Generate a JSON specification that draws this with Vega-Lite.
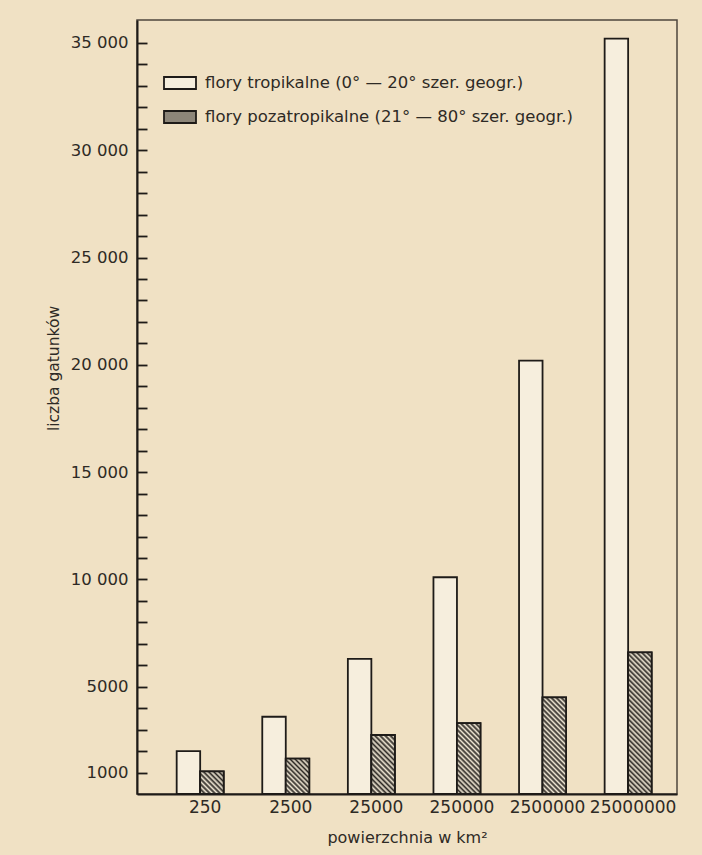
{
"$schema":"https://vega.github.io/schema/vega-lite/v6.json",
"width":540,"height":774,
"autosize":{"type":"none"},
"padding":{"left":137,"top":20,"right":25,"bottom":61},
"background":"#f0e1c4",
"config":{"view":{"stroke":"#4d463d","strokeWidth":1.5},"font":"DejaVu Sans"},
"data":{"values":[
{"area":"250","type":"flory tropikalne (0° — 20° szer. geogr.)","value":2000},
{"area":"250","type":"flory pozatropikalne (21° — 80° szer. geogr.)","value":1050},
{"area":"2500","type":"flory tropikalne (0° — 20° szer. geogr.)","value":3600},
{"area":"2500","type":"flory pozatropikalne (21° — 80° szer. geogr.)","value":1650},
{"area":"25000","type":"flory tropikalne (0° — 20° szer. geogr.)","value":6300},
{"area":"25000","type":"flory pozatropikalne (21° — 80° szer. geogr.)","value":2750},
{"area":"250000","type":"flory tropikalne (0° — 20° szer. geogr.)","value":10100},
{"area":"250000","type":"flory pozatropikalne (21° — 80° szer. geogr.)","value":3300},
{"area":"2500000","type":"flory tropikalne (0° — 20° szer. geogr.)","value":20200},
{"area":"2500000","type":"flory pozatropikalne (21° — 80° szer. geogr.)","value":4500},
{"area":"25000000","type":"flory tropikalne (0° — 20° szer. geogr.)","value":35200},
{"area":"25000000","type":"flory pozatropikalne (21° — 80° szer. geogr.)","value":6600}
]},
"encoding":{
"x":{"field":"area","type":"nominal","sort":null,"title":"powierzchnia w km²",
"scale":{"domain":["250","2500","25000","250000","2500000","25000000"],"paddingInner":0.451,"paddingOuter":0.38,"align":0.61},
"axis":{"labelAngle":0,"ticks":false,"domainColor":"#1e1b18","domainWidth":2,"labelFont":"DejaVu Sans","labelFontSize":17,"labelColor":"#2e2a25","labelPadding":5,"labelOffset":5,"titleFont":"DejaVu Sans","titleFontSize":16,"titleFontWeight":"normal","titleColor":"#2e2a25","titlePadding":14}},
"xOffset":{"field":"type","type":"nominal","scale":{"domain":["flory tropikalne (0° — 20° szer. geogr.)","flory pozatropikalne (21° — 80° szer. geogr.)"],"paddingInner":0,"paddingOuter":0}},
"y":{"field":"value","type":"quantitative","title":"liczba gatunków","scale":{"domain":[0,36070],"nice":false,"zero":true},
"axis":{"values":[1000,2000,3000,4000,5000,6000,7000,8000,9000,10000,11000,12000,13000,14000,15000,16000,17000,18000,19000,20000,21000,22000,23000,24000,25000,26000,27000,28000,29000,30000,31000,32000,33000,34000,35000],
"grid":false,"tickSize":-10,"tickWidth":1.8,"tickColor":"#1e1b18","domainColor":"#1e1b18","domainWidth":2,
"labelExpr":"(datum.value % 5000 == 0 || datum.value == 1000) ? (datum.value >= 10000 ? replace(format(datum.value, ','), ',', ' ') : format(datum.value, 'd')) : ''",
"labelOverlap":false,"labelPadding":19,"labelFont":"DejaVu Sans","labelFontSize":16.5,"labelColor":"#2e2a25",
"titleFont":"DejaVu Sans","titleFontSize":15.5,"titleFontWeight":"normal","titleColor":"#2e2a25","titleX":-76,"titleY":348,
"encode":{"ticks":{"update":{"x2":{"signal":"(datum.value % 5000 == 0 || datum.value == 1000) ? 15 : 10"}}}}}}
},
"layer":[
{"mark":{"type":"bar","stroke":"#1e1b18","strokeWidth":1.8},
"encoding":{"fill":{"field":"type","type":"nominal",
"scale":{"domain":["flory tropikalne (0° — 20° szer. geogr.)","flory pozatropikalne (21° — 80° szer. geogr.)"],"range":["#f6eedd","#8d8679"]},
"legend":{"title":null,"orient":"none","legendX":26,"legendY":46,"padding":0,"symbolType":"M-1,-0.375H1V0.375H-1Z","symbolSize":1024,"symbolStrokeWidth":1.8,"symbolStrokeColor":"#1e1b18","labelFont":"DejaVu Sans","labelFontSize":16.5,"labelColor":"#2e2a25","labelOffset":8,"labelLimit":0,"rowPadding":7}}}},
{"transform":[{"filter":"datum.area=='250' && indexof(datum.type,'poza')>=0"}],
"mark":{"type":"bar","stroke":"#1e1b18","strokeWidth":1.8,"fill":{"gradient":"linear","x1":0,"y1":1,"x2":1.021,"y2":0.022,"stops":[
{"offset":0,"color":"#2b2723"},{"offset":0.0556,"color":"#efe6d3"},{"offset":0.1111,"color":"#2b2723"},{"offset":0.1667,"color":"#efe6d3"},{"offset":0.2222,"color":"#2b2723"},{"offset":0.2778,"color":"#efe6d3"},{"offset":0.3333,"color":"#2b2723"},{"offset":0.3889,"color":"#efe6d3"},{"offset":0.4444,"color":"#2b2723"},{"offset":0.5,"color":"#efe6d3"},{"offset":0.5556,"color":"#2b2723"},{"offset":0.6111,"color":"#efe6d3"},{"offset":0.6667,"color":"#2b2723"},{"offset":0.7222,"color":"#efe6d3"},{"offset":0.7778,"color":"#2b2723"},{"offset":0.8333,"color":"#efe6d3"},{"offset":0.8889,"color":"#2b2723"},{"offset":0.9444,"color":"#efe6d3"},{"offset":1,"color":"#2b2723"}]}}},
{"transform":[{"filter":"datum.area=='2500' && indexof(datum.type,'poza')>=0"}],
"mark":{"type":"bar","stroke":"#1e1b18","strokeWidth":1.8,"fill":{"gradient":"linear","x1":0,"y1":1,"x2":0.767,"y2":-0.155,"stops":[
{"offset":0,"color":"#2b2723"},{"offset":0.0417,"color":"#efe6d3"},{"offset":0.0833,"color":"#2b2723"},{"offset":0.125,"color":"#efe6d3"},{"offset":0.1667,"color":"#2b2723"},{"offset":0.2083,"color":"#efe6d3"},{"offset":0.25,"color":"#2b2723"},{"offset":0.2917,"color":"#efe6d3"},{"offset":0.3333,"color":"#2b2723"},{"offset":0.375,"color":"#efe6d3"},{"offset":0.4167,"color":"#2b2723"},{"offset":0.4583,"color":"#efe6d3"},{"offset":0.5,"color":"#2b2723"},{"offset":0.5417,"color":"#efe6d3"},{"offset":0.5833,"color":"#2b2723"},{"offset":0.625,"color":"#efe6d3"},{"offset":0.6667,"color":"#2b2723"},{"offset":0.7083,"color":"#efe6d3"},{"offset":0.75,"color":"#2b2723"},{"offset":0.7917,"color":"#efe6d3"},{"offset":0.8333,"color":"#2b2723"},{"offset":0.875,"color":"#efe6d3"},{"offset":0.9167,"color":"#2b2723"},{"offset":0.9583,"color":"#efe6d3"},{"offset":1,"color":"#2b2723"}]}}},
{"transform":[{"filter":"datum.area=='25000' && indexof(datum.type,'poza')>=0"}],
"mark":{"type":"bar","stroke":"#1e1b18","strokeWidth":1.8,"fill":{"gradient":"linear","x1":0,"y1":1,"x2":0.481,"y2":-0.207,"stops":[
{"offset":0,"color":"#2b2723"},{"offset":0.0313,"color":"#efe6d3"},{"offset":0.0625,"color":"#2b2723"},{"offset":0.0938,"color":"#efe6d3"},{"offset":0.125,"color":"#2b2723"},{"offset":0.1563,"color":"#efe6d3"},{"offset":0.1875,"color":"#2b2723"},{"offset":0.2188,"color":"#efe6d3"},{"offset":0.25,"color":"#2b2723"},{"offset":0.2813,"color":"#efe6d3"},{"offset":0.3125,"color":"#2b2723"},{"offset":0.3438,"color":"#efe6d3"},{"offset":0.375,"color":"#2b2723"},{"offset":0.4063,"color":"#efe6d3"},{"offset":0.4375,"color":"#2b2723"},{"offset":0.4688,"color":"#efe6d3"},{"offset":0.5,"color":"#2b2723"},{"offset":0.5313,"color":"#efe6d3"},{"offset":0.5625,"color":"#2b2723"},{"offset":0.5938,"color":"#efe6d3"},{"offset":0.625,"color":"#2b2723"},{"offset":0.6563,"color":"#efe6d3"},{"offset":0.6875,"color":"#2b2723"},{"offset":0.7188,"color":"#efe6d3"},{"offset":0.75,"color":"#2b2723"},{"offset":0.7813,"color":"#efe6d3"},{"offset":0.8125,"color":"#2b2723"},{"offset":0.8438,"color":"#efe6d3"},{"offset":0.875,"color":"#2b2723"},{"offset":0.9063,"color":"#efe6d3"},{"offset":0.9375,"color":"#2b2723"},{"offset":0.9688,"color":"#efe6d3"},{"offset":1,"color":"#2b2723"}]}}},
{"transform":[{"filter":"datum.area=='250000' && indexof(datum.type,'poza')>=0"}],
"mark":{"type":"bar","stroke":"#1e1b18","strokeWidth":1.8,"fill":{"gradient":"linear","x1":0,"y1":1,"x2":0.398,"y2":-0.2,"stops":[
{"offset":0,"color":"#2b2723"},{"offset":0.0263,"color":"#efe6d3"},{"offset":0.0526,"color":"#2b2723"},{"offset":0.0789,"color":"#efe6d3"},{"offset":0.1053,"color":"#2b2723"},{"offset":0.1316,"color":"#efe6d3"},{"offset":0.1579,"color":"#2b2723"},{"offset":0.1842,"color":"#efe6d3"},{"offset":0.2105,"color":"#2b2723"},{"offset":0.2368,"color":"#efe6d3"},{"offset":0.2632,"color":"#2b2723"},{"offset":0.2895,"color":"#efe6d3"},{"offset":0.3158,"color":"#2b2723"},{"offset":0.3421,"color":"#efe6d3"},{"offset":0.3684,"color":"#2b2723"},{"offset":0.3947,"color":"#efe6d3"},{"offset":0.4211,"color":"#2b2723"},{"offset":0.4474,"color":"#efe6d3"},{"offset":0.4737,"color":"#2b2723"},{"offset":0.5,"color":"#efe6d3"},{"offset":0.5263,"color":"#2b2723"},{"offset":0.5526,"color":"#efe6d3"},{"offset":0.5789,"color":"#2b2723"},{"offset":0.6053,"color":"#efe6d3"},{"offset":0.6316,"color":"#2b2723"},{"offset":0.6579,"color":"#efe6d3"},{"offset":0.6842,"color":"#2b2723"},{"offset":0.7105,"color":"#efe6d3"},{"offset":0.7368,"color":"#2b2723"},{"offset":0.7632,"color":"#efe6d3"},{"offset":0.7895,"color":"#2b2723"},{"offset":0.8158,"color":"#efe6d3"},{"offset":0.8421,"color":"#2b2723"},{"offset":0.8684,"color":"#efe6d3"},{"offset":0.8947,"color":"#2b2723"},{"offset":0.9211,"color":"#efe6d3"},{"offset":0.9474,"color":"#2b2723"},{"offset":0.9737,"color":"#efe6d3"},{"offset":1,"color":"#2b2723"}]}}},
{"transform":[{"filter":"datum.area=='2500000' && indexof(datum.type,'poza')>=0"}],
"mark":{"type":"bar","stroke":"#1e1b18","strokeWidth":1.8,"fill":{"gradient":"linear","x1":0,"y1":1,"x2":0.286,"y2":-0.174,"stops":[
{"offset":0,"color":"#2b2723"},{"offset":0.0208,"color":"#efe6d3"},{"offset":0.0417,"color":"#2b2723"},{"offset":0.0625,"color":"#efe6d3"},{"offset":0.0833,"color":"#2b2723"},{"offset":0.1042,"color":"#efe6d3"},{"offset":0.125,"color":"#2b2723"},{"offset":0.1458,"color":"#efe6d3"},{"offset":0.1667,"color":"#2b2723"},{"offset":0.1875,"color":"#efe6d3"},{"offset":0.2083,"color":"#2b2723"},{"offset":0.2292,"color":"#efe6d3"},{"offset":0.25,"color":"#2b2723"},{"offset":0.2708,"color":"#efe6d3"},{"offset":0.2917,"color":"#2b2723"},{"offset":0.3125,"color":"#efe6d3"},{"offset":0.3333,"color":"#2b2723"},{"offset":0.3542,"color":"#efe6d3"},{"offset":0.375,"color":"#2b2723"},{"offset":0.3958,"color":"#efe6d3"},{"offset":0.4167,"color":"#2b2723"},{"offset":0.4375,"color":"#efe6d3"},{"offset":0.4583,"color":"#2b2723"},{"offset":0.4792,"color":"#efe6d3"},{"offset":0.5,"color":"#2b2723"},{"offset":0.5208,"color":"#efe6d3"},{"offset":0.5417,"color":"#2b2723"},{"offset":0.5625,"color":"#efe6d3"},{"offset":0.5833,"color":"#2b2723"},{"offset":0.6042,"color":"#efe6d3"},{"offset":0.625,"color":"#2b2723"},{"offset":0.6458,"color":"#efe6d3"},{"offset":0.6667,"color":"#2b2723"},{"offset":0.6875,"color":"#efe6d3"},{"offset":0.7083,"color":"#2b2723"},{"offset":0.7292,"color":"#efe6d3"},{"offset":0.75,"color":"#2b2723"},{"offset":0.7708,"color":"#efe6d3"},{"offset":0.7917,"color":"#2b2723"},{"offset":0.8125,"color":"#efe6d3"},{"offset":0.8333,"color":"#2b2723"},{"offset":0.8542,"color":"#efe6d3"},{"offset":0.875,"color":"#2b2723"},{"offset":0.8958,"color":"#efe6d3"},{"offset":0.9167,"color":"#2b2723"},{"offset":0.9375,"color":"#efe6d3"},{"offset":0.9583,"color":"#2b2723"},{"offset":0.9792,"color":"#efe6d3"},{"offset":1,"color":"#2b2723"}]}}},
{"transform":[{"filter":"datum.area=='25000000' && indexof(datum.type,'poza')>=0"}],
"mark":{"type":"bar","stroke":"#1e1b18","strokeWidth":1.8,"fill":{"gradient":"linear","x1":0,"y1":1,"x2":0.188,"y2":-0.135,"stops":[
{"offset":0,"color":"#2b2723"},{"offset":0.0152,"color":"#efe6d3"},{"offset":0.0303,"color":"#2b2723"},{"offset":0.0455,"color":"#efe6d3"},{"offset":0.0606,"color":"#2b2723"},{"offset":0.0758,"color":"#efe6d3"},{"offset":0.0909,"color":"#2b2723"},{"offset":0.1061,"color":"#efe6d3"},{"offset":0.1212,"color":"#2b2723"},{"offset":0.1364,"color":"#efe6d3"},{"offset":0.1515,"color":"#2b2723"},{"offset":0.1667,"color":"#efe6d3"},{"offset":0.1818,"color":"#2b2723"},{"offset":0.197,"color":"#efe6d3"},{"offset":0.2121,"color":"#2b2723"},{"offset":0.2273,"color":"#efe6d3"},{"offset":0.2424,"color":"#2b2723"},{"offset":0.2576,"color":"#efe6d3"},{"offset":0.2727,"color":"#2b2723"},{"offset":0.2879,"color":"#efe6d3"},{"offset":0.303,"color":"#2b2723"},{"offset":0.3182,"color":"#efe6d3"},{"offset":0.3333,"color":"#2b2723"},{"offset":0.3485,"color":"#efe6d3"},{"offset":0.3636,"color":"#2b2723"},{"offset":0.3788,"color":"#efe6d3"},{"offset":0.3939,"color":"#2b2723"},{"offset":0.4091,"color":"#efe6d3"},{"offset":0.4242,"color":"#2b2723"},{"offset":0.4394,"color":"#efe6d3"},{"offset":0.4545,"color":"#2b2723"},{"offset":0.4697,"color":"#efe6d3"},{"offset":0.4848,"color":"#2b2723"},{"offset":0.5,"color":"#efe6d3"},{"offset":0.5152,"color":"#2b2723"},{"offset":0.5303,"color":"#efe6d3"},{"offset":0.5455,"color":"#2b2723"},{"offset":0.5606,"color":"#efe6d3"},{"offset":0.5758,"color":"#2b2723"},{"offset":0.5909,"color":"#efe6d3"},{"offset":0.6061,"color":"#2b2723"},{"offset":0.6212,"color":"#efe6d3"},{"offset":0.6364,"color":"#2b2723"},{"offset":0.6515,"color":"#efe6d3"},{"offset":0.6667,"color":"#2b2723"},{"offset":0.6818,"color":"#efe6d3"},{"offset":0.697,"color":"#2b2723"},{"offset":0.7121,"color":"#efe6d3"},{"offset":0.7273,"color":"#2b2723"},{"offset":0.7424,"color":"#efe6d3"},{"offset":0.7576,"color":"#2b2723"},{"offset":0.7727,"color":"#efe6d3"},{"offset":0.7879,"color":"#2b2723"},{"offset":0.803,"color":"#efe6d3"},{"offset":0.8182,"color":"#2b2723"},{"offset":0.8333,"color":"#efe6d3"},{"offset":0.8485,"color":"#2b2723"},{"offset":0.8636,"color":"#efe6d3"},{"offset":0.8788,"color":"#2b2723"},{"offset":0.8939,"color":"#efe6d3"},{"offset":0.9091,"color":"#2b2723"},{"offset":0.9242,"color":"#efe6d3"},{"offset":0.9394,"color":"#2b2723"},{"offset":0.9545,"color":"#efe6d3"},{"offset":0.9697,"color":"#2b2723"},{"offset":0.9848,"color":"#efe6d3"},{"offset":1,"color":"#2b2723"}]}}}
]
}
